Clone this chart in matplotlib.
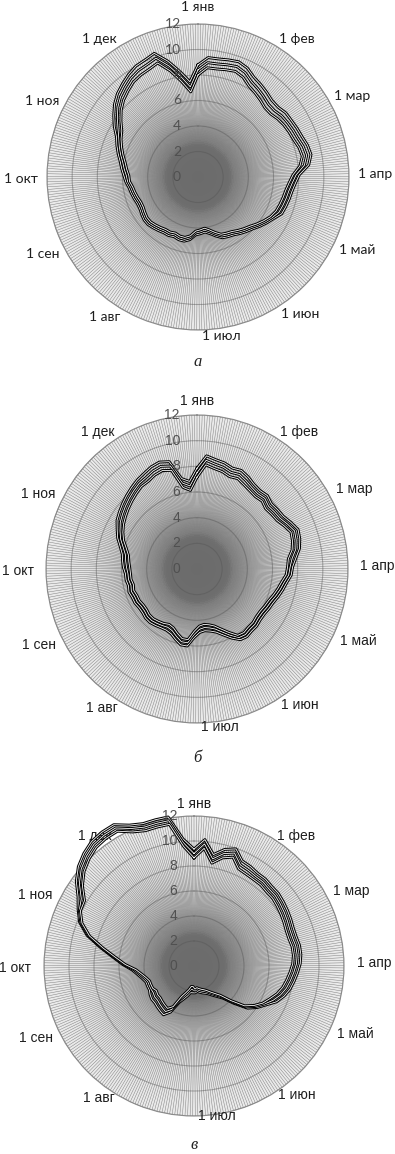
import numpy as np
import matplotlib.pyplot as plt
from matplotlib.transforms import offset_copy

# figure size in pixels
W, H = 395, 1154

# ---- categories: one spoke per day, labels on the 1st of each month
n_days = 365
month_start = [0, 31, 59, 90, 120, 151, 181, 212, 243, 273, 304, 334]
month_names = ['1 янв', '1 фев', '1 мар', '1 апр', '1 май', '1 июн',
               '1 июл', '1 авг', '1 сен', '1 окт', '1 ноя', '1 дек']
r_ticks = [0, 2, 4, 6, 8, 10, 12]

# ---- values read every 5 days (day 0 = 1 Jan)
days = np.arange(0, 365, 5)

# panel a
mid_a = [8.4, 9.0, 9.0, 9.1, 9.2, 9.0, 8.6, 8.4, 8.2, 8.0, 8.0, 8.2, 8.3,
         8.4, 8.5, 8.7, 8.8, 8.5, 7.8, 7.5, 7.3, 7.2, 7.1, 7.0, 6.7, 6.4,
         6.1, 5.8, 5.6, 5.4, 5.2, 5.1, 5.0, 4.7, 4.4, 4.2, 4.3, 4.4, 4.8,
         5.0, 5.0, 4.9, 5.0, 5.0, 5.1, 5.2, 5.3, 5.3, 5.2, 5.1, 5.1, 5.2,
         5.3, 5.4, 5.6, 5.7, 5.9, 6.1, 6.4, 6.7, 7.0, 7.4, 7.9, 8.4, 8.8,
         9.1, 9.4, 9.6, 9.7, 9.9, 9.0, 8.0, 7.1]
# half-distance to the upper / lower curve, by month
band_a = [0.40, 0.40, 0.35, 0.25, 0.15, 0.15, 0.15, 0.15, 0.15, 0.20, 0.35, 0.40]

# panel б
mid_b = [7.5, 8.5, 8.3, 8.2, 8.0, 8.1, 7.9, 7.7, 7.6, 7.7, 7.5, 7.6, 7.7,
         8.0, 8.3, 8.2, 8.0, 7.6, 7.4, 7.3, 7.0, 6.8, 6.6, 6.4, 6.3, 6.2,
         6.2, 6.3, 6.3, 6.4, 6.3, 5.8, 5.3, 4.9, 4.7, 4.6, 4.7, 5.1, 5.8,
         5.8, 5.5, 5.2, 5.1, 5.2, 5.3, 5.4, 5.4, 5.3, 5.3, 5.4, 5.4, 5.5,
         5.4, 5.5, 5.5, 5.6, 5.7, 5.8, 6.1, 6.5, 6.8, 7.1, 7.3, 7.5, 7.7,
         7.9, 8.1, 8.2, 8.4, 8.5, 8.3, 6.8, 6.5]
band_b = [0.35, 0.30, 0.30, 0.20, 0.20, 0.25, 0.25, 0.20, 0.20, 0.25, 0.30, 0.35]

# panel в
mid_c = [9.0, 9.8, 8.7, 9.3, 9.6, 8.9, 8.8, 8.7, 8.7, 8.6, 8.6, 8.5, 8.4,
         8.3, 8.2, 8.2, 8.3, 8.3, 8.2, 8.0, 7.8, 7.6, 7.3, 6.9, 6.4, 5.9,
         5.3, 4.2, 3.3, 2.9, 2.6, 2.35, 2.2, 2.1, 2.0, 1.9, 2.0, 1.9, 1.9,
         2.2, 2.5, 2.9, 3.9, 4.3, 4.2, 4.1, 4.0, 4.0, 3.9, 3.9, 3.9, 3.9,
         4.1, 4.4, 4.8, 5.6, 6.4, 7.5, 8.8, 9.7, 10.2, 10.5, 11.3, 11.9,
         12.3, 12.6, 12.7, 12.7, 12.1, 11.8, 11.8, 11.8, 9.9]
band_c = [0.35, 0.30, 0.30, 0.30, 0.15, 0.15, 0.25, 0.30, 0.15, 0.10, 0.30, 0.30]

captions = ['а', 'б', 'в']
# centre x, centre y, radius x, radius y (pixels, y from top)
boxes = [(198, 177, 151, 153), (197, 569, 151, 154), (194, 966, 150, 150)]
caption_y = [362, 758, 1145]
fonts = ['Lato', 'Liberation Sans', 'Liberation Sans']
# month label ellipse in pixels: horizontal, vertical, vertical for 1 янв
label_xy = [(160, 153, 164), (163, 151, 161), (163, 143, 155)]

# background shading of the dense spoke fan (radius -> gray level)
shade_r = [0, 2.5, 3.5, 5, 7, 9, 12]
shade_g = [0.42, 0.43, 0.58, 0.76, 0.85, 0.89, 0.92]

fig = plt.figure(figsize=(W / 100, H / 100), dpi=100)

theta = days / n_days * 2 * np.pi
theta_c = np.append(theta, theta[0])
spokes = np.arange(n_days) / n_days * 2 * np.pi

for mid, band, cap, (cx, cy, rx, ry), cy_cap, fnt, (lx, ly, ly_jan) in zip(
        [mid_a, mid_b, mid_c], [band_a, band_b, band_c], captions, boxes,
        caption_y, fonts, label_xy):
    ax = fig.add_axes([(cx - rx) / W, (H - cy - ry) / H, 2 * rx / W, 2 * ry / H],
                      projection='polar')
    ax.set_aspect('auto')
    ax.set_theta_zero_location('N')
    ax.set_theta_direction(-1)

    # shaded fan
    tg = np.linspace(0, 2 * np.pi, 181)
    rg = np.linspace(0, 12, 97)
    rc = 0.5 * (rg[1:] + rg[:-1])
    z = np.tile(np.interp(rc, shade_r, shade_g)[:, None], (1, len(tg) - 1))
    ax.pcolormesh(tg, rg, z, cmap='gray', vmin=0, vmax=1, shading='flat',
                  zorder=0.2, edgecolors='none')

    # daily spokes
    ax.vlines(spokes, 3, 12, colors='#808080', lw=0.35, zorder=0.3)

    ax.set_ylim(0, 12)
    ax.set_xticks([])
    ax.set_yticks(r_ticks)
    ax.set_yticklabels([])
    ax.xaxis.grid(False)
    ax.yaxis.grid(True, color='#555555', alpha=0.45, lw=0.8)
    ax.spines['polar'].set_color('#8a8a8a')
    ax.spines['polar'].set_linewidth(0.8)

    # value labels left of the vertical axis
    tr = offset_copy(ax.transData, fig=fig, x=-17, y=0, units='dots')
    for v in r_ticks:
        ax.text(0, v, str(v), transform=tr, ha='right', va='center',
                fontsize=10, color='#505050', family=fnt, zorder=10)

    # month labels, anchored on an ellipse around the plot
    for d, name in zip(month_start, month_names):
        a = d / n_days * 2 * np.pi
        s, c = np.sin(a), np.cos(a)
        ha = 'center' if abs(s) < 0.02 else ('left' if s > 0 else 'right')
        va = 'bottom' if c > 0.7 else ('top' if c < -0.7 else 'center')
        vy = ly_jan if d == 0 else ly
        ax.text(0.5 + lx * s / (2 * rx), 0.5 + vy * c / (2 * ry), name,
                transform=ax.transAxes, ha=ha, va=va, fontsize=10,
                color='#1e1e1e', family=fnt)

    # three curves: upper, middle, lower
    mid = np.array(mid)
    idx = np.searchsorted(month_start, days, side='right') - 1
    w = np.array(band)[idx]
    for k, off in enumerate([w, 0 * w, -w]):
        r = mid + off
        r_c = np.append(r, r[0])
        ax.plot(theta_c, r_c, color='black', lw=2.1, clip_on=False, zorder=3 + 2 * k)
        ax.plot(theta_c, r_c, color='white', lw=0.6, clip_on=False, zorder=4 + 2 * k)

    fig.text(cx / W, 1 - cy_cap / H, cap, ha='center', va='center',
             fontsize=12, style='italic', family='Liberation Serif', color='#222222')

fig.savefig('out.png', dpi=100)
